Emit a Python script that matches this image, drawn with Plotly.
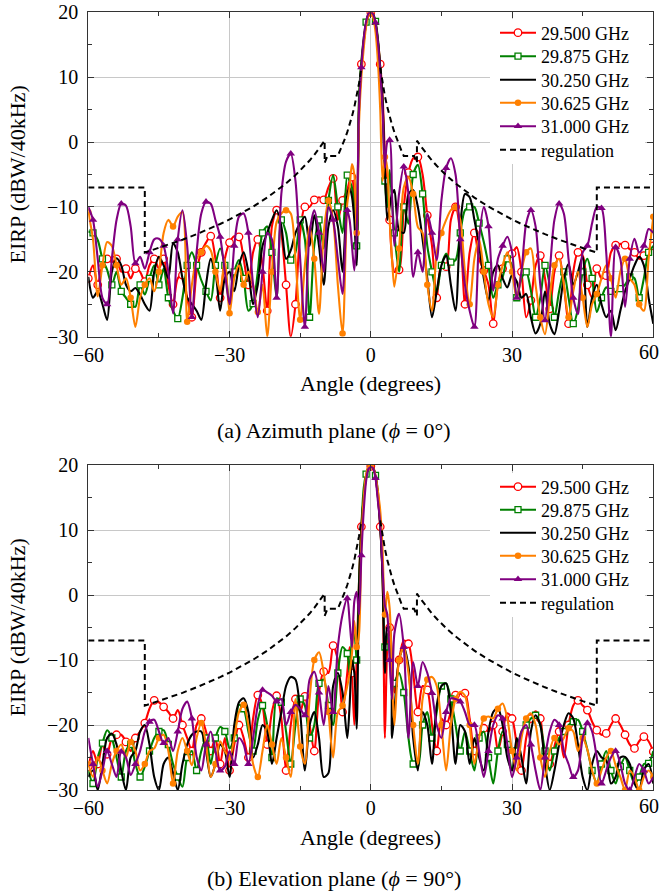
import plotly.graph_objects as go

# Sampling grid of the measured patterns (degrees): 1 deg steps, 0.5 deg around boresight
angle = list(range(-60, -4)) + [k * 0.5 for k in range(-9, 10)] + list(range(5, 61))

FREQ_LABELS = ["29.500 GHz", "29.875 GHz", "30.250 GHz", "30.625 GHz", "31.000 GHz"]
X_TICKS = [-60, -30, 0, 30, 60]

# ---------------- Azimuth plane (phi = 0 deg), EIRP in dBW/40kHz ----------------
az_29500 = [
    -21, -19, -22, -19, -18, -18.5, -18, -20, -19.5, -21,
    -19.5, -20, -21.5, -19, -18, -19.5, -18, -22, -25, -21,
    -20.5, -24, -27, -20, -17, -15.5, -14.5, -18, -24, -18,
    -15.5, -14.5, -14.6, -18, -22, -17, -15, -19, -26, -13,
    -10.5, -14, -22, -30, -25, -14, -10, -10, -8.9, -8.5,
    -8.9, -7, -5.6, -12, -9, -7.4,
] + [
    -6, -5.4, -9, -15, 6, 12, 15.5, 18.3, 19.6, 20, 19.6, 18.4, 15.8, 12, 7.2, -2, -8, -12, -18,
] + [
    -20, -19.7, -10, -4.7, -2.5, -2.3, -5, -11.3, -16, -24,
    -18.8, -19.2, -12, -10, -14, -25, -17, -14, -18, -19.8,
    -22, -28, -22, -19.5, -17.5, -17.2, -16.2, -20, -27, -24.4,
    -19, -17.5, -21, -25.7, -20, -17.5, -22, -28, -20, -17,
    -17.5, -22, -24, -19.5, -21, -20.6, -17, -15.9, -15.7, -15.9,
    -16.5, -17, -18, -17.5, -16.5, -16,
]

az_29875 = [
    -13.8, -14, -15.1, -18, -19.7, -22, -20, -23, -24, -25,
    -25.4, -22, -23.5, -21, -19, -22, -19.5, -24, -26, -27.2,
    -24, -19, -17, -19, -21.3, -23, -24.4, -19, -16.4, -19,
    -25, -20, -18.2, -21, -26, -24.9, -20, -14, -13, -17,
    -24, -12, -14, -18.2, -17, -12, -15, -27, -15.9, -12,
    -16.4, -9, -5.1, -10, -14, -5.1,
] + [
    -6, -7, -10, -16, 7, 12.5, 16, 18.5, 19.7, 20, 19.7, 18.6, 16, 11.5, 6, -6, -10, -4.3, -9,
] + [
    -14, -20, -10, -12.6, -5, -3.5, -8, -16, -20, -23.1,
    -19, -17.2, -18.5, -18.2, -14, -10.5, -10, -10, -12.5, -15.4,
    -19, -24, -22, -20.8, -18, -19, -24, -21, -20, -22.9,
    -27, -24, -19, -22, -27, -23, -20, -24, -28, -25.7,
    -20, -18, -21, -26.2, -24, -22.4, -23, -23.1, -22.6, -22,
    -20.8, -21, -24, -21, -17, -16,
]

az_30250 = [
    -20.8, -24, -23, -25, -27.4, -20, -17.9, -19, -22, -23,
    -22.5, -23.5, -25, -26, -20, -17.7, -19, -21, -15.6, -17,
    -21, -24, -25, -26, -27.4, -22, -18, -20, -26, -21,
    -20, -23, -19, -17, -20, -25, -22, -16, -14, -12,
    -10.5, -13, -18, -16.7, -14, -12.5, -11.5, -16, -11.3, -16,
    -22, -13, -10.5, -13, -20, -8.2,
] + [
    -7, -8.4, -12, -19, 5, 11.5, 15.5, 18.2, 19.6, 20, 19.6, 18.2, 15.5, 11.5, 6, -4, -12, -10, -8,
] + [
    -7.4, -13.6, -14, -8, -7.4, -10, -15, -21, -27, -23,
    -19, -17.5, -22, -26, -13, -8, -8.5, -12, -16, -21,
    -24.4, -20, -19, -21, -22.4, -20.5, -21.5, -24, -23.4, -27,
    -29.5, -28, -23, -28, -29.6, -26, -21, -18.8, -22, -20,
    -17.7, -28.5, -24, -22, -25, -27, -26, -29, -26, -23,
    -21, -19, -17.7, -19, -24, -28,
]

az_30625 = [
    -10.8, -15, -23.8, -19, -15.4, -16, -19, -22, -21, -24,
    -28.5, -24, -22, -21, -23, -20, -14, -12, -13, -11.5,
    -10.8, -27.7, -22, -18, -17, -16, -16.7, -20, -23, -18,
    -26.4, -21, -19, -22, -20, -22, -26.2, -22, -30, -20,
    -12.3, -11, -10.5, -11, -18, -27.4, -19, -13, -18, -26.5,
    -14, -9, -12, -22, -29.5, -9.5,
] + [
    -7, -3.4, -5, -14, 3, 10, 14.5, 17.8, 19.5, 20, 19.2, 17, 12.5, 5, -6, -2.3, -4, -12, -18,
] + [
    -22.3, -16.4, -7, -5.4, -8, -13.1, -14, -22, -26, -17,
    -14, -12, -10.5, -10, -12, -20, -25, -18, -15, -20,
    -25, -27, -22, -19, -17, -20, -24, -20, -17, -16.4,
    -22, -27, -29.6, -24, -19, -18, -22, -27, -23, -20,
    -24, -28.5, -25, -23.4, -21, -19, -21, -24, -20, -18,
    -21, -22, -25, -26, -18, -11.5,
]

az_31000 = [
    -10, -12, -18, -24, -25, -18, -12, -9.5, -9.8, -13,
    -18.7, -17.7, -19.5, -17, -15, -14.9, -16, -20, -26.4, -15,
    -10.5, -16, -27, -17, -11, -9.2, -9.5, -12, -14.6, -20,
    -25, -16, -11.5, -11, -14, -22, -27, -20, -14, -15,
    -24, -8, -3, -1.8, -6, -18, -28.5, -14, -10.5, -14,
    -20, -10, -12, -18, -23.4, -10.5,
] + [
    -12, -16, -19.8, -14, 5, 11.5, 16, 18.6, 19.8, 20, 19.7, 18.4, 15.5, 11, 5, -4, 0, 0.3, -8,
] + [
    -16, -8, -3.8, -8, -20.8, -17, -20, -11, -14, -18.2,
    -9, -4, -2.5, -5, -15, -22, -26, -28.5, -15, -10,
    -13, -22.9, -18, -16, -14.6, -17, -24, -20, -12.5, -10.5,
    -13, -22, -27.5, -20, -12, -9.5, -11, -18, -24, -26.5,
    -17, -16, -12.5, -10, -10.2, -17, -30, -16.2, -18, -25.4,
    -18, -14.9, -17, -16, -13.4, -14,
]

# ---------------- Elevation plane (phi = 90 deg), EIRP in dBW/40kHz ----------------
el_29500 = [
    -26.4, -24, -26, -23, -24.5, -22, -21.5, -21.5, -22.6, -24,
    -22, -21, -19.7, -17.5, -16.2, -16.5, -17.2, -18, -19, -17.7,
    -20, -22, -24, -20, -19, -21, -24, -22, -26, -22,
    -27, -23, -20, -22, -25, -19, -15.4, -17, -23, -18,
    -15.5, -19, -27, -20, -16, -18, -15.6, -20, -24, -15,
    -11.8, -12, -7.8, -10, -18, -12,
] + [
    -8, -12, -20, -10, 2, 10.5, 15, 18, 19.5, 19.8, 19.5, 18.2, 15.2, 10.5, 3, -22, -8, -5, -10,
] + [
    -15, -10, -7, -7.5, -12, -18, -14, -14.6, -20, -24,
    -19, -20, -18, -15.4, -15.2, -15.1, -19, -24, -22, -20.5,
    -21, -20, -24, -21, -18.2, -19, -23, -27, -22, -19,
    -17.9, -19, -25, -26, -23.3, -21, -25, -20, -17, -16.2,
    -17, -17.7, -19.5, -20.8, -21.5, -21.3, -20, -19, -20, -21.5,
    -23, -23.6, -22.5, -21.8, -22.5, -24.1,
]

el_29875 = [
    -27, -29, -25, -22.8, -20.8, -22, -25, -28, -24, -23,
    -26, -28, -26.4, -24, -22, -21, -20.8, -23, -26, -28,
    -29.5, -25, -24, -27, -24, -22, -26, -22, -20.3, -21,
    -23.6, -22, -16.9, -17.5, -21, -24, -19.2, -17, -20, -25,
    -15.9, -16.5, -21, -26, -20, -16, -17, -22, -20, -13.6,
    -13, -17, -20, -12, -8, -9,
] + [
    -12, -7, -6, -10, 2, 10.5, 16.5, 18.6, 19.6, 19.8, 19.5, 18.4, 16, 11, 3, -8, -6, -8, -15,
] + [
    -13.6, -12, -15, -22, -26, -26.4, -20, -18, -22, -18,
    -14, -13.6, -16, -20, -24, -21, -24, -27, -22, -21,
    -25, -29, -24, -21, -23, -27, -24, -21, -20, -19,
    -18.5, -20, -24, -27, -24, -22, -21, -20, -19.5, -19.2,
    -21, -23.8, -27, -29, -26, -24, -27, -29, -26.4, -25,
    -27, -29, -28, -26, -25.9, -24,
]

el_30250 = [
    -28, -27, -30, -26, -22, -21.3, -23, -27, -30, -25,
    -24, -21, -20, -23, -28, -30, -26, -25, -27.4, -30,
    -26, -23, -21.5, -21, -21, -24, -28, -26, -23, -24,
    -28, -20, -16.5, -15.9, -18, -25, -23, -20, -21, -26,
    -22, -18, -14, -12.6, -13, -18, -27, -20, -18, -22,
    -28, -27.4, -14, -12, -15, -22,
] + [
    -17, -10, -12, -20.6, 1, 10, 15, 18.3, 19.6, 19.9, 19.6, 18.3, 15.2, 10.5, 3, -12, -5, -4.9, -22,
] + [
    -18, -10, -8, -11, -22, -27, -18, -20, -26, -17,
    -14, -13.6, -18, -26, -20, -21, -26, -22, -25, -27,
    -21, -18, -17.4, -20, -25, -27, -22, -25, -29, -21,
    -18.5, -20, -26, -30, -27, -23, -20, -18.2, -19, -23,
    -28, -30, -26, -24, -25, -25.4, -29, -28, -25, -24.9,
    -26, -29, -30, -26.9, -26, -29,
]

el_30625 = [
    -26, -28, -24.9, -27, -29, -26, -24, -23, -25, -22.6,
    -24, -27, -26, -24, -23.6, -22, -21.5, -24, -29, -24,
    -22, -24, -26.2, -22, -19.7, -23, -28, -26, -22.5, -24,
    -25, -22, -18, -16.9, -20, -26, -28, -24, -20, -23,
    -26, -22, -25, -28, -16, -23.3, -26, -16, -10, -8.8,
    -12, -18, -25, -18, -17, -14,
] + [
    -12.1, -9, -4, -8, -6, 8, 15, 18.5, 19.7, 19.9, 19.6, 18.4, 16, 13, 7, -3, 0.5, -2, -12,
] + [
    -20, -10, -8, -12, -20, -26, -16, -13, -12.6, -14,
    -20, -27, -20, -16, -14.9, -15.5, -20, -26, -22, -19,
    -18.7, -19, -17.5, -16.7, -19, -24, -27, -22, -19, -18.2,
    -20, -25, -28, -24, -22, -23, -22, -20.5, -21, -24,
    -22, -23.8, -27, -29, -27, -25, -24, -26.2, -28, -30,
    -27, -28, -30, -28, -27, -28,
]

el_31000 = [
    -22, -26, -29.5, -27, -24, -26, -28, -24.1, -25, -27.7,
    -26, -24, -21, -19.5, -19.2, -21, -22.8, -22, -24, -21,
    -17.5, -16.4, -19, -24.9, -27, -23, -21, -24, -27, -26.4,
    -24, -26, -22, -23, -26, -22, -17, -14.6, -15, -15.5,
    -16.4, -16, -20, -18, -16.9, -17.5, -18.5, -13, -11.8, -15,
    -20, -14, -18, -8, -3, -0.5,
] + [
    -4, -8, -1, 0.5, -3, 6.1, 13, 17.5, 19.4, 19.7, 19.5, 18, 14.5, 11, 4, -1.6, -3, -10, -16,
] + [
    -6, -2.9, -8, -22, -10.3, -14, -10.3, -12, -15.1, -20,
    -22, -18, -15.9, -16, -16.4, -18, -20, -20, -24, -28,
    -24, -20, -18.5, -19, -23, -28, -25, -21, -20, -23,
    -27, -30, -25, -21, -19.2, -20, -24, -26, -28, -27,
    -22, -19.7, -21, -25, -29, -27, -25, -24, -26, -29,
    -30, -28, -26, -27, -29, -28,
]

# Regulatory off-axis EIRP density mask (dBW/40kHz); None splits the two sides
mask_angle = [
    -60, -48, -48, -45, -42, -40, -37, -35, -32, -30, -27, -25, -22, -20, -18, -16, -14,
    -13, -12, -11, -10.5, -9.8, -9.8, -9.2, -7, -6.5, -6, -5.5, -5, -4.5, -4, -3.5, -3,
    -2.5, -2, None,
    2, 2.5, 3, 3.5, 4, 4.5, 5, 5.5, 6, 6.5, 7, 9.2, 9.8, 9.8, 10.5, 11, 12, 13, 14, 16,
    18, 20, 22, 25, 27, 30, 32, 35, 37, 40, 42, 45, 48, 48, 60,
]
mask_eirp = [
    -7, -7, -17.03, -16.33, -15.58, -15.05, -14.2, -13.6, -12.63, -11.93, -10.78, -9.95,
    -8.56, -7.53, -6.38, -5.1, -3.65, -2.85, -1.98, -1.03, -0.53, 0.22, -3.2, -2.13,
    -2.13, -1.32, -0.45, 0.49, 1.53, 2.67, 3.95, 5.4, 7.07, 9.05, 11.47, None,
    11.47, 9.05, 7.07, 5.4, 3.95, 2.67, 1.53, 0.49, -0.45, -1.32, -2.13, -2.13, -3.2,
    0.22, -0.53, -1.03, -1.98, -2.85, -3.65, -5.1, -6.38, -7.53, -8.56, -9.95, -10.78,
    -11.93, -12.63, -13.6, -14.2, -15.05, -15.58, -16.33, -17.03, -7, -7,
]

FONT = "Liberation Serif, Times New Roman, serif"
COLORS = ["#ff0000", "#008000", "#000000", "#ff8000", "#800080"]
MARKERS = [
    dict(symbol="circle", size=7.5, color="white", line=dict(color="#ff0000", width=1.3)),
    dict(symbol="square", size=6, color="white", line=dict(color="#008000", width=1.3)),
    None,
    dict(symbol="circle", size=6.5, color="#ff8000", line=dict(width=0)),
    dict(symbol="triangle-up", size=7.5, color="#800080", line=dict(width=0)),
]
MARK_EVERY = [(2, 0), (2, 1), None, (3, 0), (3, 1)]

W, H = 661, 894
x0, x1 = 88.3, 653.3
pa_top, pa_bot = 12.3, 336.7
pb_top, pb_bot = 465.0, 790.0

# vertical centres (px from top) of the legend rows in each panel
LEGEND_ROWS = [
    [33, 56.5, 80, 103, 126.5, 150],
    [487, 510, 533, 556, 579.5, 603],
]
# white boxes behind the legends: (left, top, right, bottom) in px
LEGEND_BOXES = [(490, 19, 645, 164), (490, 473, 645, 617)]

panels = [
    dict(series=[az_29500, az_29875, az_30250, az_30625, az_31000], xa="x", ya="y"),
    dict(series=[el_29500, el_29875, el_30250, el_30625, el_31000], xa="x2", ya="y2"),
]


def legend_id(k):
    return "legend" if k == 0 else f"legend{k + 1}"


fig = go.Figure()

for pi, p in enumerate(panels):
    for i, vals in enumerate(p["series"]):
        fig.add_trace(go.Scatter(
            x=angle, y=vals, mode="lines", xaxis=p["xa"], yaxis=p["ya"],
            line=dict(color=COLORS[i], width=2.1, shape="spline", smoothing=0.8),
            showlegend=False, hoverinfo="skip"))
        if MARKERS[i] is not None:
            period, off = MARK_EVERY[i]
            mx, my = [], []
            for a, v in zip(angle, vals):
                if float(a).is_integer() and (int(a) - off) % period == 0:
                    mx.append(a)
                    my.append(v)
            fig.add_trace(go.Scatter(
                x=mx, y=my, mode="markers", xaxis=p["xa"], yaxis=p["ya"],
                marker=MARKERS[i], showlegend=False, hoverinfo="skip"))
    # legend keys, one small legend per row so the row pitch can be set exactly
    for i, name in enumerate(FREQ_LABELS):
        fig.add_trace(go.Scatter(
            x=[None], y=[None], name=name, xaxis=p["xa"], yaxis=p["ya"],
            mode="lines+markers" if MARKERS[i] is not None else "lines",
            line=dict(color=COLORS[i], width=2.1),
            marker=MARKERS[i] if MARKERS[i] is not None else None,
            legend=legend_id(pi * 6 + i)))
    fig.add_trace(go.Scatter(
        x=mask_angle, y=mask_eirp, mode="lines", name="regulation",
        xaxis=p["xa"], yaxis=p["ya"], connectgaps=False,
        line=dict(color="black", width=2, dash="6px,4px"),
        legend=legend_id(pi * 6 + 5), hoverinfo="skip"))


def ydom(top, bot):
    return [1 - bot / H, 1 - top / H]


tick_font = dict(family=FONT, size=20, color="black")
# the right-most angle label is placed separately so it stays inside the page
x_ticktext = ["\u2212" + str(-v) if v < 0 else str(v) for v in X_TICKS[:-1]] + [""]


def xaxis(anchor):
    return dict(domain=[x0 / W, x1 / W], range=[-60, 60], tickvals=X_TICKS,
                ticktext=x_ticktext,
                anchor=anchor, showline=True, linecolor="#333", linewidth=1.2,
                mirror="ticks", ticks="inside", ticklen=6, tickcolor="#333",
                showgrid=True, gridcolor="#c8c8c8", gridwidth=1, zeroline=False,
                tickfont=tick_font, automargin=False,
                minor=dict(dtick=15, ticks="inside", ticklen=4, tickcolor="#333",
                           showgrid=False))


def yaxis(anchor, dom):
    return dict(domain=dom, range=[-30, 20], tick0=0, dtick=10, anchor=anchor,
                showline=True, linecolor="#333", linewidth=1.2, mirror="ticks",
                ticks="inside", ticklen=6, tickcolor="#333", showgrid=True,
                gridcolor="#c8c8c8", gridwidth=1, zeroline=False, tickfont=tick_font,
                ticklabelstandoff=5, automargin=False,
                minor=dict(dtick=5, ticks="inside", ticklen=4, tickcolor="#333",
                           showgrid=False))


layout_legends = {}
for pi in range(2):
    for r, yc in enumerate(LEGEND_ROWS[pi]):
        layout_legends[legend_id(pi * 6 + r)] = dict(
            x=495 / W, y=1 - yc / H, xanchor="left", yanchor="middle",
            bgcolor="rgba(0,0,0,0)", borderwidth=0, itemwidth=36,
            font=dict(family=FONT, size=18, color="black"))

shapes = [
    dict(type="rect", xref="paper", yref="paper", layer="above",
         x0=l / W, x1=r / W, y0=1 - b / H, y1=1 - t / H,
         fillcolor="white", line=dict(width=0))
    for (l, t, r, b) in LEGEND_BOXES
]

fig.update_layout(
    width=W, height=H, margin=dict(l=0, r=0, t=0, b=0, autoexpand=False),
    paper_bgcolor="white", plot_bgcolor="white",
    xaxis=xaxis("y"), yaxis=yaxis("x", ydom(pa_top, pa_bot)),
    xaxis2=xaxis("y2"), yaxis2=yaxis("x2", ydom(pb_top, pb_bot)),
    showlegend=True, shapes=shapes, **layout_legends,
)

title_font = dict(family=FONT, size=22, color="black")
cap_font = dict(family=FONT, size=22, color="black")
xc = (x0 + x1) / 2 / W
annotations = [
    dict(text="EIRP (dBW/40kHz)", x=17 / W, y=1 - (pa_top + pa_bot) / 2 / H,
         textangle=-90, font=title_font),
    dict(text="EIRP (dBW/40kHz)", x=17 / W, y=1 - (pb_top + pb_bot) / 2 / H,
         textangle=-90, font=title_font),
    dict(text="Angle (degrees)", x=xc, y=1 - 383 / H, font=title_font),
    dict(text="Angle (degrees)", x=xc, y=1 - 837 / H, font=title_font),
    dict(text="(a) Azimuth plane (<i>ϕ</i> = 0°)", x=0.506, y=1 - 431 / H, font=cap_font),
    dict(text="(b) Elevation plane (<i>ϕ</i> = 90°)", x=0.506, y=1 - 878 / H, font=cap_font),
    # right-most angle tick label of each panel
    dict(text=str(X_TICKS[-1]), x=1.0, xanchor="right", y=1 - 352 / H, font=tick_font),
    dict(text=str(X_TICKS[-1]), x=1.0, xanchor="right", y=1 - 806 / H, font=tick_font),
]
for a in annotations:
    a.setdefault("xanchor", "center")
    a.update(xref="paper", yref="paper", showarrow=False, yanchor="middle")
fig.update_layout(annotations=annotations)

fig.write_html("out.html")
